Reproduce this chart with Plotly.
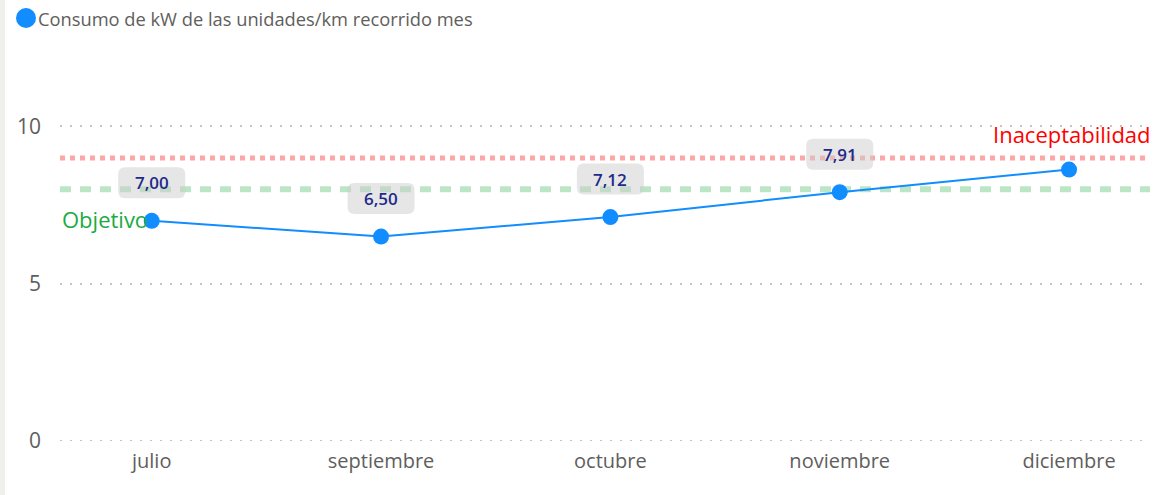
import plotly.graph_objects as go

months = ["julio", "septiembre", "octubre", "noviembre", "diciembre"]
consumo = [7.00, 6.50, 7.12, 7.91, 8.63]
labels = ["7,00", "6,50", "7,12", "7,91", None]
objetivo = 8
inaceptabilidad = 9
y_ticks = [0, 5, 10]

FONT = "Segoe UI, Open Sans, Noto Sans, sans-serif"
BLUE = "#118DFF"
GREY = "#605E5C"

fig = go.Figure()

x_idx = list(range(len(months)))

fig.add_trace(go.Scatter(
    x=x_idx, y=consumo, mode="lines+markers",
    line=dict(color=BLUE, width=2),
    marker=dict(color=BLUE, size=16),
    showlegend=False, hoverinfo="skip",
))

# reference lines
fig.add_shape(type="line", xref="paper", x0=0, x1=1, yref="y", y0=inaceptabilidad, y1=inaceptabilidad,
              line=dict(color="rgba(253,150,150,0.85)", width=5, dash="5px,5px"), layer="below")
fig.add_shape(type="line", xref="paper", x0=0, x1=1, yref="y", y0=objetivo, y1=objetivo,
              line=dict(color="rgba(26,171,64,0.3)", width=6, dash="11px,9px"), layer="below")


def rounded_rect(w, h, cy, r):
    l, rt = -w / 2, w / 2
    b, t = cy - h / 2, cy + h / 2
    return (f"M {l + r},{b} L {rt - r},{b} Q {rt},{b} {rt},{b + r} "
            f"L {rt},{t - r} Q {rt},{t} {rt - r},{t} L {l + r},{t} "
            f"Q {l},{t} {l},{t - r} L {l},{b + r} Q {l},{b} {l + r},{b} Z")


# data labels
for i, (v, t) in enumerate(zip(consumo, labels)):
    if t is None:
        continue
    fig.add_shape(type="path", xref="x", yref="y", xsizemode="pixel", ysizemode="pixel",
                  xanchor=i, yanchor=v, path=rounded_rect(67, 31, 38, 7),
                  fillcolor="rgba(205,205,205,0.5)", line=dict(width=0), layer="above")
    fig.add_annotation(x=i, y=v, xref="x", yref="y", text=t, showarrow=False,
                       yshift=38,
                       font=dict(family=FONT, size=17, color="#1F2A8A", weight=600))

# reference line labels
fig.add_annotation(x=0, xref="paper", xanchor="left", xshift=0, y=objetivo, yref="y",
                   yanchor="top", yshift=-13, text="Objetivo", showarrow=False,
                   font=dict(family=FONT, size=22, color="#1AAB40"))
fig.add_annotation(x=1, xref="paper", xanchor="right", xshift=3, y=inaceptabilidad, yref="y",
                   yanchor="bottom", yshift=7, text="Inaceptabilidad", showarrow=False,
                   font=dict(family=FONT, size=22, color="#FD0000"))

# legend
fig.add_shape(type="circle", xref="paper", yref="paper", xsizemode="pixel", ysizemode="pixel",
              xanchor=0, yanchor=1, x0=-44, x1=-24, y0=87, y1=67,
              fillcolor=BLUE, line=dict(width=0))
fig.add_annotation(x=0, xref="paper", xanchor="left", xshift=-24, y=1, yref="paper", yanchor="middle",
                   yshift=77, text="Consumo de kW de las unidades/km recorrido mes", showarrow=False,
                   font=dict(family=FONT, size=18.3, color=GREY))

# left strip
fig.add_shape(type="rect", xref="paper", yref="paper", xsizemode="pixel", xanchor=0,
              x0=-60, x1=-55, y0=-0.2, y1=1.3, fillcolor="#F0EFEE", line=dict(width=0), layer="below")

# dotted baseline at 0 (same style as gridlines)
fig.add_shape(type="line", xref="paper", x0=0, x1=1, yref="y", y0=0, y1=0,
              line=dict(color="#C4C4C4", width=2, dash="2px,8px"), layer="below")

fig.update_layout(
    width=1154, height=495,
    margin=dict(l=60, r=4, t=95, b=54),
    paper_bgcolor="white", plot_bgcolor="white",
    font=dict(family=FONT, color=GREY),
    xaxis=dict(
        tickmode="array", tickvals=x_idx, ticktext=months,
        range=[-0.4, 4.353], showgrid=False, zeroline=False, showline=False,
        tickfont=dict(size=20, color=GREY), ticks="", ticklabelstandoff=6,
    ),
    yaxis=dict(
        range=[0, 11], tickvals=y_ticks, showgrid=True,
        gridcolor="#C4C4C4", griddash="2px,8px", gridwidth=2,
        zeroline=False, showline=False, ticks="",
        tickfont=dict(size=21, color=GREY), ticklabelstandoff=18,
    ),
    showlegend=False,
)

fig.write_html("out.html", config={"displayModeBar": False},
               post_script="document.body.style.margin='0';")
